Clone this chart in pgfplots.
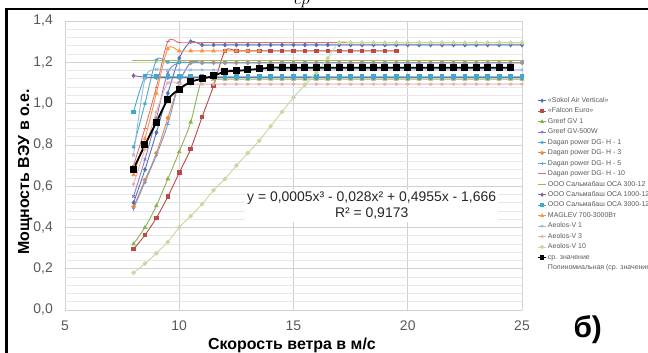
\documentclass[border=0pt]{standalone}
\usepackage{fontspec}
\setmainfont{Liberation Sans}
\usepackage{pgfplots}
\pgfplotsset{compat=1.18}
\usepackage{pgfplotstable}

\definecolor{cSok}{HTML}{4F6FB8}
\definecolor{cFal}{HTML}{B94A48}
\definecolor{cGvA}{HTML}{8DB24F}
\definecolor{cGvB}{HTML}{8A78C0}
\definecolor{cDgA}{HTML}{4BACC6}
\definecolor{cDgB}{HTML}{F0883C}
\definecolor{cDgC}{HTML}{6E9BE0}
\definecolor{cDgD}{HTML}{E0706E}
\definecolor{cOA}{HTML}{9BBB59}
\definecolor{cOB}{HTML}{8064A2}
\definecolor{cOC}{HTML}{3FA9CC}
\definecolor{cMag}{HTML}{F79646}
\definecolor{cAA}{HTML}{9BB7E0}
\definecolor{cAB}{HTML}{EBB0B0}
\definecolor{cAC}{HTML}{C5D9A0}
\definecolor{tgray}{HTML}{595959}

\pgfplotstableread{
x sok fal gva gvb dga dgb dgc dgd oa ob oc mag aa ab ac avg
8 0.52 0.295 0.32 0.55 0.79 0.50 0.49 0.70 1.211 1.135 0.96 0.655 0.75 0.61 0.18 0.683
8.5 0.68 0.363 0.40 0.73 1.00 0.63 0.62 0.88 1.211 1.128 1.13 0.83 1.12 0.78 0.225 0.80
9 0.86 0.446 0.505 0.93 1.21 0.76 0.75 1.08 1.211 1.126 1.13 1.05 1.165 0.96 0.275 0.91
9.5 1.05 0.549 0.635 1.15 1.20 0.93 0.90 1.30 1.211 1.126 1.13 1.265 1.163 1.10 0.33 1.02
10 1.22 0.665 0.767 1.198 1.198 1.10 1.10 1.295 1.211 1.126 1.13 1.255 1.163 1.094 0.40 1.07
10.5 1.30 0.78 0.91 1.198 1.198 1.198 1.198 1.295 1.211 1.126 1.13 1.255 1.163 1.094 0.455 1.105
11 1.284 0.935 1.118 1.198 1.198 1.198 1.198 1.295 1.211 1.126 1.13 1.255 1.163 1.094 0.513 1.12
11.5 1.284 1.085 1.118 1.198 1.198 1.198 1.198 1.295 1.211 1.126 1.13 1.255 1.163 1.094 0.58 1.134
12 1.284 1.255 1.118 1.198 1.198 1.198 1.198 1.295 1.211 1.126 1.13 1.255 1.163 1.094 0.635 1.155
12.5 1.284 1.255 1.118 1.198 1.198 1.198 1.198 1.295 1.211 1.126 1.13 1.255 1.163 1.094 0.70 1.158
13 1.284 1.255 1.118 1.198 1.198 1.198 1.198 1.295 1.211 1.126 1.13 1.255 1.163 1.094 0.76 1.163
13.5 1.284 1.255 1.118 1.198 1.198 1.198 1.198 1.295 1.211 1.126 1.13 1.255 1.163 1.094 0.82 1.168
14 1.284 1.255 1.118 1.198 1.198 1.198 1.198 1.295 1.211 1.126 1.13 nan 1.163 1.094 0.89 1.174
14.5 1.284 1.255 1.118 1.198 1.198 1.198 1.198 1.295 1.211 1.126 1.13 nan 1.163 1.094 0.96 1.174
15 1.284 1.255 1.118 1.198 1.198 1.198 1.198 1.295 1.211 1.126 1.13 nan 1.163 1.094 1.03 1.174
15.5 1.284 1.255 1.118 1.198 1.198 1.198 1.198 1.295 1.211 1.126 1.13 nan 1.163 1.094 1.09 1.174
16 1.284 1.255 1.118 1.198 1.198 1.198 1.198 1.295 1.211 1.126 1.13 nan 1.163 1.094 1.15 1.174
16.5 1.284 1.255 1.118 1.198 1.198 1.198 1.198 1.295 1.211 1.126 1.13 nan 1.163 1.094 1.22 1.174
17 1.284 1.255 1.118 1.198 1.198 1.198 1.198 1.295 1.211 1.126 1.13 nan 1.163 1.094 1.295 1.174
17.5 1.284 1.255 1.118 1.198 1.198 1.198 1.198 1.295 1.211 1.126 1.13 nan 1.163 1.094 1.295 1.174
18 1.284 1.255 1.118 1.198 1.198 1.198 1.198 1.295 1.211 1.126 1.13 nan 1.163 1.094 1.295 1.174
18.5 1.284 1.255 1.118 1.198 1.198 1.198 1.198 1.295 1.211 1.126 1.13 nan 1.163 1.094 1.295 1.174
19 1.284 1.255 1.118 1.198 1.198 1.198 1.198 1.295 1.211 1.126 1.13 nan 1.163 1.094 1.295 1.174
19.5 1.284 1.255 1.118 1.198 1.198 1.198 1.198 1.295 1.211 1.126 1.13 nan 1.163 1.094 1.295 1.174
20 1.284 nan 1.118 1.198 1.198 1.198 1.198 1.295 1.211 1.126 1.13 nan 1.163 1.094 1.295 1.174
20.5 1.284 nan 1.118 1.198 1.198 1.198 1.198 1.295 1.211 1.126 1.13 nan 1.163 1.094 1.295 1.174
21 1.284 nan 1.118 1.198 1.198 1.198 1.198 1.295 1.211 1.126 1.13 nan 1.163 1.094 1.295 1.174
21.5 1.284 nan 1.118 1.198 1.198 1.198 1.198 1.295 1.211 1.126 1.13 nan 1.163 1.094 1.295 1.174
22 1.284 nan 1.118 1.198 1.198 1.198 1.198 1.295 1.211 1.126 1.13 nan 1.163 1.094 1.295 1.174
22.5 1.284 nan 1.118 1.198 1.198 1.198 1.198 1.295 1.211 1.126 1.13 nan 1.163 1.094 1.295 1.174
23 1.284 nan 1.118 1.198 1.198 1.198 1.198 1.295 1.211 1.126 1.13 nan 1.163 1.094 1.295 1.174
23.5 1.284 nan 1.118 1.198 1.198 1.198 1.198 1.295 1.211 1.126 1.13 nan 1.163 1.094 1.295 1.174
24 1.284 nan 1.118 1.198 1.198 1.198 1.198 1.295 1.211 1.126 1.13 nan 1.163 1.094 1.295 1.174
24.5 1.284 nan 1.118 1.198 1.198 1.198 1.198 1.295 1.211 1.126 1.13 nan 1.163 1.094 1.295 1.174
25 1.284 nan 1.118 1.198 1.198 1.198 1.198 1.295 1.211 1.126 1.13 nan 1.163 1.094 1.295 nan
}\data

\begin{document}
\begin{tikzpicture}
\useasboundingbox (0bp,-353bp) rectangle (648bp,0bp);
\begin{axis}[
  at={(65bp,-310bp)}, anchor=south west,
  scale only axis, width=457bp, height=289bp,
  xmin=5, xmax=25, ymin=0, ymax=1.4,
  xtick={5,10,15,20,25},
  ytick={0,0.2,0.4,0.6,0.8,1.0,1.2,1.4},
  minor y tick num=4,
  xmajorgrids, ymajorgrids, yminorgrids,
  major grid style={draw=black!18, line width=0.7bp},
  minor grid style={draw=black!9, line width=0.7bp},
  axis line style={draw=none},
  major tick length=0pt, minor tick length=0pt,
  tick style={draw=none},
  /pgf/number format/assume math mode=true,
  yticklabel style={/pgf/number format/.cd, use comma, fixed, fixed zerofill, precision=1, /tikz/.cd,
     anchor=east, inner sep=0pt, xshift=-12bp, font=\fontsize{14}{16}\selectfont, text=tgray},
  xticklabel style={anchor=north, inner sep=0pt, yshift=-11bp, font=\fontsize{14}{16}\selectfont, text=tgray},
  unbounded coords=discard,
  every axis plot/.append style={line width=0.9bp, mark size=1.8bp, smooth},
  legend cell align=left,
  legend style={at={(1.0328,0.738)}, anchor=north west, draw=none, fill=none,
     font=\fontsize{7}{8}\selectfont, text=tgray, inner sep=0pt,
     nodes={inner sep=0pt, text height=5.5bp, text depth=2bp},
     row sep=2.95bp, column sep=1bp},
  legend image code/.code={\draw[mark repeat=2,mark phase=2,mark size=1.5bp] plot coordinates {(0bp,0bp) (4bp,0bp) (8bp,0bp)};},
]
\addplot[cSok, mark=diamond*] table[x=x,y=sok]{\data}; \addlegendentry{«Sokol Air Vertical»}
\addplot[cFal, mark=square*] table[x=x,y=fal]{\data}; \addlegendentry{«Falcon Euro»}
\addplot[cGvA, mark=triangle*] table[x=x,y=gva]{\data}; \addlegendentry{Greef GV 1}
\addplot[cGvB, mark=x] table[x=x,y=gvb]{\data}; \addlegendentry{Greef  GV-500W}
\addplot[cDgA, mark=asterisk] table[x=x,y=dga]{\data}; \addlegendentry{Dagan power DG- H - 1}
\addplot[cDgB, mark=*] table[x=x,y=dgb]{\data}; \addlegendentry{Dagan power DG- H - 3}
\addplot[cDgC, mark=+] table[x=x,y=dgc]{\data}; \addlegendentry{Dagan power DG- H - 5}
\addplot[cDgD, mark=-] table[x=x,y=dgd]{\data}; \addlegendentry{Dagan power DG- H - 10}
\addplot[cOA, mark=-] table[x=x,y=oa]{\data}; \addlegendentry{ООО Сальмабаш ОСА 300-12}
\addplot[cOB, mark=diamond*] table[x=x,y=ob]{\data}; \addlegendentry{ООО Сальмабаш ОСА 1000-12}
\addplot[cOC, mark=square*] table[x=x,y=oc]{\data}; \addlegendentry{ООО Сальмабаш ОСА 3000-12}
\addplot[cMag, mark=triangle*] table[x=x,y=mag]{\data}; \addlegendentry{MAGLEV 700-3000Вт}
\addplot[cAA, mark=x] table[x=x,y=aa]{\data}; \addlegendentry{Aeolos-V 1}
\addplot[cAB, mark=asterisk] table[x=x,y=ab]{\data}; \addlegendentry{Aeolos-V 3}
\addplot[cAC, mark=*] table[x=x,y=ac]{\data}; \addlegendentry{Aeolos-V 10}
\addplot[black, mark=square*, line width=1.8bp, mark size=2.6bp] table[x=x,y=avg]{\data}; \addlegendentry{ср. значение}
\addlegendimage{legend image code/.code={}}
\addlegendentry{Полиномиальная (ср. значение)}
\end{axis}
\node[fill=white, inner sep=2bp, align=center, font=\fontsize{14}{16}\selectfont, text=black!85, anchor=north west] at (245bp,-190bp) {y = 0,0005x³ - 0,028x² + 0,4955x - 1,666\\R² = 0,9173};
\node[font=\bfseries\fontsize{16}{18}\selectfont, anchor=base] at (292bp,-349bp) {Скорость ветра в м/с};
\node[font=\bfseries\fontsize{16}{18}\selectfont, rotate=90, anchor=base] at (29bp,-172bp) {Мощность ВЭУ в о.е.};
\node[font=\bfseries\fontsize{30}{32}\selectfont, anchor=base west] at (570bp,-337bp) {б)};
\node[anchor=base, font=\fontsize{16}{16}\selectfont] at (302bp,-4bp) {$cp$};
\draw[line width=2.5bp] (6.5bp,-360bp) -- (6.5bp,-9bp) -- (660bp,-9bp);
\end{tikzpicture}
\end{document}
